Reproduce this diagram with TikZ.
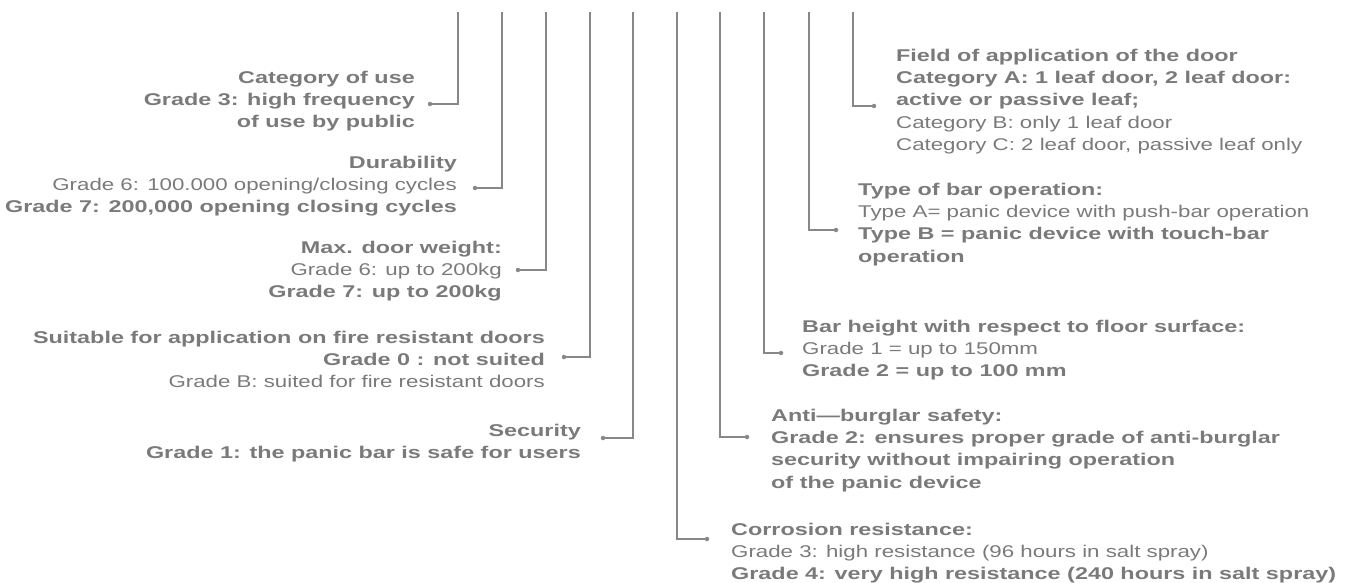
\documentclass[tikz,border=0pt]{standalone}
\usepackage{fontspec}
\setmainfont{Liberation Sans}[UprightFeatures={FakeStretch=1.31}, BoldFont={Liberation Sans Bold}, BoldFeatures={FakeStretch=1.375}]
\definecolor{tc}{RGB}{122,122,124}
\definecolor{lc}{RGB}{136,136,138}
\newcommand{\mystrut}{\rule{0pt}{13pt}}
\tikzset{
  conn/.style={draw=lc, line width=1.4pt},
  dotmark/.style={circle, fill=lc, inner sep=0pt, minimum size=4.5pt},
  lblock/.style={anchor=north east, align=right, inner sep=0pt, text=tc, font=\fontsize{17}{22.3}\selectfont},
  rblock/.style={anchor=north west, align=left, inner sep=0pt, text=tc, font=\fontsize{17}{22.3}\selectfont}
}
\begin{document}
\begin{tikzpicture}[x=1pt,y=-1pt]
\useasboundingbox (0,0) rectangle (1352,582);
% top ends of the ten leader lines
\coordinate (t0) at (458,12);
\coordinate (t1) at (502,12);
\coordinate (t2) at (546,12);
\coordinate (t3) at (590,12);
\coordinate (t4) at (633,12);
\coordinate (t5) at (677,12);
\coordinate (t6) at (720,12);
\coordinate (t7) at (764,12);
\coordinate (t8) at (809,12);
\coordinate (t9) at (853,12);
% dots
\node[dotmark] (d0) at (430,104) {};
\node[dotmark] (d1) at (475,188) {};
\node[dotmark] (d2) at (518,270) {};
\node[dotmark] (d3) at (564,357) {};
\node[dotmark] (d4) at (603,438) {};
\node[dotmark] (d5) at (707,539) {};
\node[dotmark] (d6) at (747,437) {};
\node[dotmark] (d7) at (781,353) {};
\node[dotmark] (d8) at (836,230) {};
\node[dotmark] (d9) at (874,106) {};
% connectors
\draw[conn] (t0) |- (d0.center);
\draw[conn] (t1) |- (d1.center);
\draw[conn] (t2) |- (d2.center);
\draw[conn] (t3) |- (d3.center);
\draw[conn] (t4) |- (d4.center);
\draw[conn] (t5) |- (d5.center);
\draw[conn] (t6) |- (d6.center);
\draw[conn] (t7) |- (d7.center);
\draw[conn] (t8) |- (d8.center);
\draw[conn] (t9) |- (d9.center);
% left blocks
\node[lblock] (ba) at (415,70) {\mystrut\textbf{Category of use}\\\textbf{Grade 3: high frequency}\\\textbf{of use by public}};
\node[lblock] (bb) at (457,155) {\mystrut\textbf{Durability}\\Grade 6: 100.000 opening/closing cycles\\\textbf{Grade 7: 200,000 opening closing cycles}};
\node[lblock] (bc) at (502,240) {\mystrut\textbf{Max. door weight:}\\Grade 6: up to 200kg\\\textbf{Grade 7: up to 200kg}};
\node[lblock] (bd) at (545,330) {\mystrut\textbf{Suitable for application on fire resistant doors}\\\textbf{Grade 0 : not suited}\\Grade B: suited for fire resistant doors};
\node[lblock] (be) at (581,423) {\mystrut\textbf{Security}\\\textbf{Grade 1: the panic bar is safe for users}};
% right blocks
\node[rblock] (bf) at (896,48) {\mystrut\textbf{Field of application of the door}\\\textbf{Category A: 1 leaf door, 2 leaf door:}\\\textbf{active or passive leaf;}\\Category B: only 1 leaf door\\Category C: 2 leaf door, passive leaf only};
\node[rblock] (bg) at (858,182) {\mystrut\textbf{Type of bar operation:}\\Type A= panic device with push-bar operation\\\textbf{Type B = panic device with touch-bar}\\\textbf{operation}};
\node[rblock] (bh) at (802,319) {\mystrut\textbf{Bar height with respect to floor surface:}\\Grade 1 = up to 150mm\\\textbf{Grade 2 = up to 100 mm}};
\node[rblock] (bi) at (771,408) {\mystrut\textbf{Anti—burglar safety:}\\\textbf{Grade 2: ensures proper grade of anti-burglar}\\\textbf{security without impairing operation}\\\textbf{of the panic device}};
\node[rblock] (bj) at (731,522) {\mystrut\textbf{Corrosion resistance:}\\Grade 3: high resistance (96 hours in salt spray)\\\textbf{Grade 4: very high resistance (240 hours in salt spray)}};
\end{tikzpicture}
\end{document}
